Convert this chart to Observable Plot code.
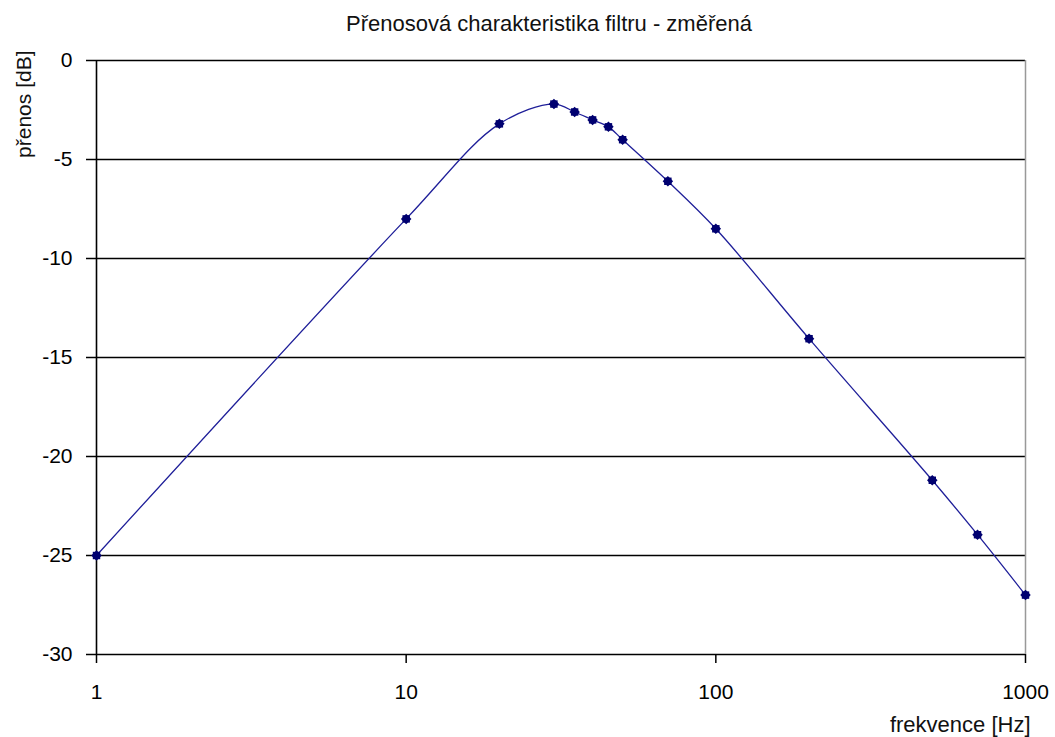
<!DOCTYPE html>
<html>
<head>
<meta charset="utf-8">
<script src="https://cdn.jsdelivr.net/npm/d3@7"></script>
<script src="https://cdn.jsdelivr.net/npm/@observablehq/plot@0.6"></script>
<style>
  html, body { margin: 0; padding: 0; background: #fff; }
  #chart svg { display: block; }
</style>
</head>
<body>
<div id="chart"></div>
<script>
// Data
const frequency = [1, 10, 20, 30, 35, 40, 45, 50, 70, 100, 200, 500, 700, 1000];
const gainDb = [-25, -8, -3.2, -2.2, -2.6, -3.0, -3.35, -4.0, -6.1, -8.5, -14.05, -21.2, -23.95, -27];
const xTicks = [1, 10, 100, 1000];
const yTicks = [0, -5, -10, -15, -20, -25, -30];
const titleText = "Přenosová charakteristika filtru - změřená";
const xLabel = "frekvence [Hz]";
const yLabel = "přenos [dB]";

const data = frequency.map((f, i) => ({f, g: gainDb[i]}));
const font = "'Liberation Sans', Arial, sans-serif";
const fs = 21;

const chart = Plot.plot({
  width: 1055,
  height: 737,
  marginLeft: 96,
  marginRight: 30,
  marginTop: 60,
  marginBottom: 83,
  style: {fontFamily: font, fontSize: fs + "px", background: "#fff", color: "#000"},
  x: {type: "log", domain: [1, 1000]},
  y: {domain: [-30, 0]},
  marks: [
    Plot.ruleY(yTicks, {stroke: "#000", strokeWidth: 1.6, strokeOpacity: 1}),
    Plot.ruleX([1000], {stroke: "#999", strokeWidth: 1.5}),
    Plot.ruleX([1], {stroke: "#000", strokeWidth: 1.6}),
    Plot.axisY(yTicks, {tickSize: 10, tickPadding: 14, tickFormat: d => String(d), label: null, fontSize: fs, stroke: "#000", strokeWidth: 1.5, fill: "#000"}),
    Plot.axisX(xTicks, {tickSize: 9, tickPadding: 21, tickFormat: d => String(d), label: null, fontSize: fs, stroke: "#000", strokeWidth: 1.5, fill: "#000"}),
    Plot.line(data, {x: "f", y: "g", curve: "catmull-rom", stroke: "#1f1f99", strokeWidth: 1.3}),
    Plot.dot(data, {x: "f", y: "g", symbol: "square", r: 4.2, fill: "#000070", stroke: "none"}),
    Plot.dot(data, {x: "f", y: "g", symbol: "square", r: 4.2, rotate: 45, fill: "#000070", stroke: "none"}),
    Plot.text([titleText], {frameAnchor: "top", dx: -12, dy: -37, lineAnchor: "middle", fontSize: 22, fill: "#111"}),
    Plot.text([xLabel], {frameAnchor: "bottom-right", dx: 5, dy: 70, textAnchor: "end", lineAnchor: "middle", fontSize: 22, fill: "#111"}),
    Plot.text([yLabel], {frameAnchor: "top-left", dx: -72, dy: -10, rotate: -90, textAnchor: "end", lineAnchor: "middle", fontSize: 21, fill: "#111"})
  ]
});
document.getElementById("chart").appendChild(chart);
</script>
</body>
</html>
